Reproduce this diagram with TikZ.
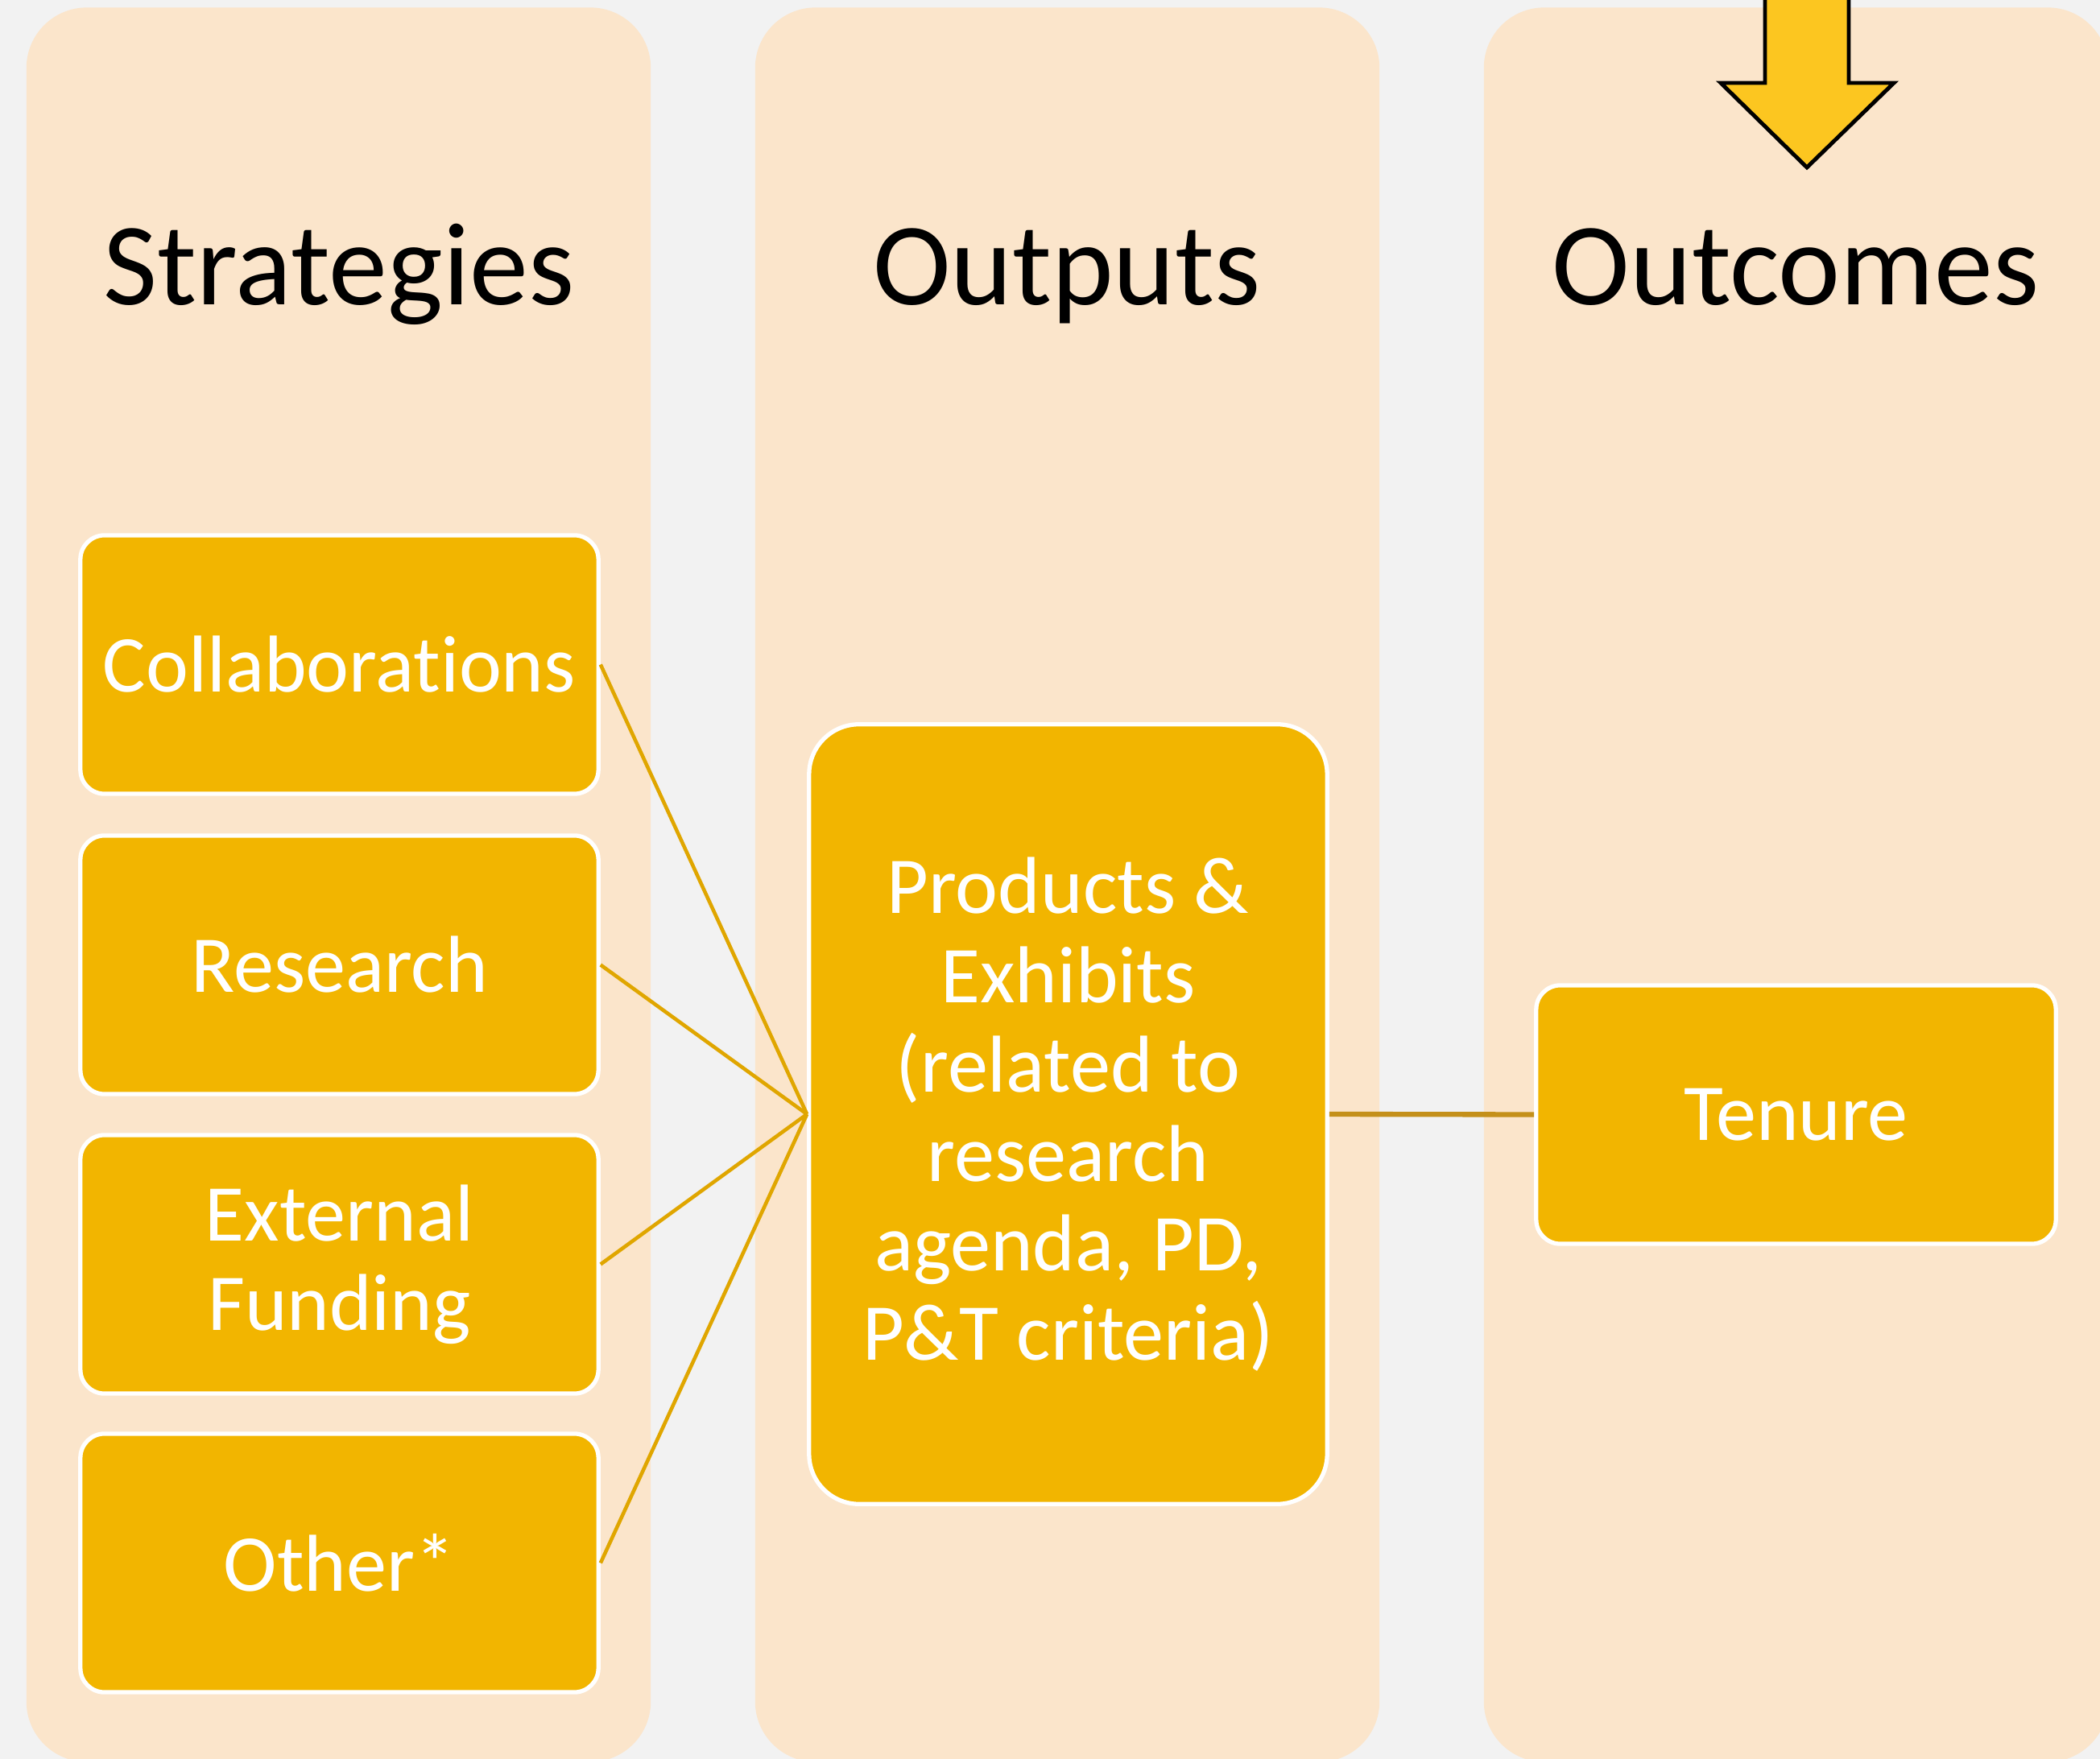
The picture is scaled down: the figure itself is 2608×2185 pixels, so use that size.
\documentclass[tikz,border=0pt]{standalone}
\usepackage{fontspec}
\setmainfont{Carlito}[Ligatures={NoCommon,NoContextual}]
\definecolor{bgc}{HTML}{F2F2F2}
\definecolor{colc}{HTML}{FBE5CB}
\definecolor{boxc}{HTML}{F2B500}
\definecolor{linec}{HTML}{E0A600}
\definecolor{linedark}{HTML}{C4901A}
\definecolor{arrowc}{HTML}{FCC620}
\tikzset{
  column/.style={rectangle, fill=colc, draw=none, rounded corners=0.75cm,
    minimum width=7.75cm, minimum height=21.78cm, inner sep=0pt},
  title/.style={anchor=base, text=black, font=\fontsize{41.5}{48}\selectfont, inner sep=0pt},
  gbox/.style={rectangle, fill=boxc, draw=white, line width=1.5pt, rounded corners=0.3cm,
    minimum width=6.43cm, minimum height=3.21cm, inner sep=0pt, text=white, align=center,
    font=\fontsize{28.5}{31.6}\selectfont},
  conn/.style={draw=linec, line width=1.3pt},
  conndark/.style={draw=linedark, line width=1.8pt},
}
\begin{document}
\begin{tikzpicture}[x=0.01cm,y=-0.01cm]
\useasboundingbox (0,0) rectangle (2608,2185);
\clip (0,0) rectangle (2608,2185);
\fill[bgc] (0,0) rectangle (2608,2185);

\node[column] (col1) at (420.5,1099) {};
\node[column] (col2) at (1325.5,1099) {};
\node[column] (col3) at (2230.5,1099) {};

\node[title] (t1) at (421,379) {Strategies};
\node[title] (t2) at (1325,379) {Outputs};
\node[title] (t3) at (2230,379) {Outcomes};

% arrow
\draw[fill=arrowc, draw=black, line width=1.4pt, line join=miter]
  (2192,-20) -- (2192,103) -- (2137,103) -- (2244,208) -- (2352,103) -- (2296,103) -- (2296,-20) -- cycle;

\node[gbox] (collab) at (421.5,825.5) {Collaborations};
\node[gbox] (research) at (421.5,1198.5) {Research};
\node[gbox] (extfund) at (421.5,1570.5) {External\\Funding};
\node[gbox] (other) at (421.5,1941.5) {Other*};

\node[gbox, minimum height=9.68cm, rounded corners=0.62cm] (prod) at (1326.5,1384)
  {Products \&\\Exhibits\\(related to\\research\\agenda, PD,\\P\&T criteria)};

\node[gbox, minimum width=6.45cm] (tenure) at (2230.5,1384.5) {Tenure};

\draw[conn] (collab.east) -- (prod.west);
\draw[conn] (research.east) -- (prod.west);
\draw[conn] (extfund.east) -- (prod.west);
\draw[conn] (other.east) -- (prod.west);
\draw[conndark] (prod.east) -- (tenure.west);
\end{tikzpicture}
\end{document}
